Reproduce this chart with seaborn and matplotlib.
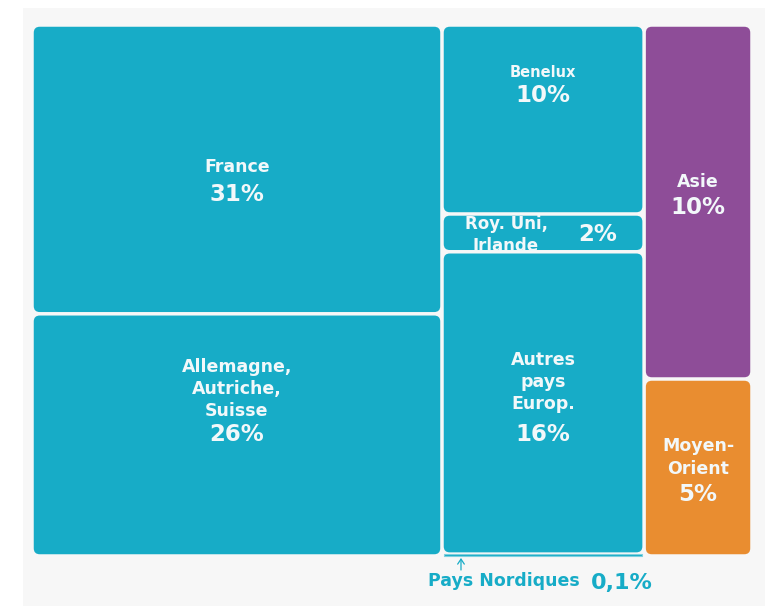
import matplotlib.pyplot as plt
import seaborn as sns
from matplotlib.patches import FancyBboxPatch, Rectangle

sns.set_theme(style="white")
plt.rcParams['font.family'] = ['DejaVu Sans']

# treemap data: share of total, grouped in columns
regions = ["France", "Allemagne,\nAutriche,\nSuisse", "Benelux", "Roy. Uni,\nIrlande",
           "Autres\npays\nEurop.", "Pays Nordiques", "Asie", "Moyen-\nOrient"]
shares = [31, 26, 10, 2, 16, 0.1, 10, 5]
share_labels = ["31%", "26%", "10%", "2%", "16%", "0,1%", "10%", "5%"]
column = [0, 0, 1, 1, 1, 1, 2, 2]
colours = ["#17acc7"] * 6 + ["#8e4d98", "#e98d30"]

# label placement (px offsets from box centre, down is positive)
name_off = [(0, -2), (0, -46), (0, -47), (-37, 2), (0, -21), None, (0, -20), (0, -10)]
pct_off = [(0, 25), (0, 0), (0, -24), (55, 2), (0, 32), None, (0, 6), (0, 27)]
name_size = [12.5, 12.5, 10.5, 12, 12.5, None, 12.5, 12.5]
txt = "#f2f8fa"

fig = plt.figure(figsize=(7.7, 6.06), dpi=100, facecolor="white")
fig.patches.append(Rectangle((23 / 770, 0), 742 / 770, 598 / 606, transform=fig.transFigure,
                             facecolor="#f7f7f7", edgecolor="none", zorder=-1))
AX_W, AX_H = 720, 531
ax = fig.add_axes([32 / 770, 50 / 606, AX_W / 770, AX_H / 606])
ax.set_facecolor("none")
total = sum(shares)
ax.set_xlim(0, total)
ax.set_ylim(1, 0)
ax.axis("off")

ux = total / AX_W   # data units per pixel
uy = 1 / AX_H
gap = 1.75

col_tot = {}
for c, s in zip(column, shares):
    col_tot[c] = col_tot.get(c, 0) + s
col_x = {}
acc = 0
for c in sorted(col_tot):
    col_x[c] = acc
    acc += col_tot[c]

col_y = {c: 0 for c in col_tot}
for i, (name, s, c) in enumerate(zip(regions, shares, column)):
    x0, w = col_x[c], col_tot[c]
    y0, h = col_y[c], s / col_tot[c]
    col_y[c] += h
    if name_off[i] is None:
        # tiny slice: thin bar with its label outside, below the chart
        ax.add_patch(Rectangle((x0 + gap * ux, y0), w - 2 * gap * ux, h, facecolor=colours[i],
                               edgecolor="#7fd0de", lw=0.8, clip_on=False))
        ax.annotate("", xy=(x0 + 19 * ux, y0 + h + 2 * uy), xytext=(x0 + 19 * ux, y0 + h + 14 * uy),
                    arrowprops=dict(arrowstyle="->,head_length=0.3,head_width=0.2",
                                    color="#17acc7", lw=0.9, shrinkA=0, shrinkB=0),
                    annotation_clip=False)
        ax.text(x0 - 14 * ux, y0 + h + 25 * uy, name, color="#17acc7", fontsize=12.5,
                fontweight="bold", ha="left", va="center")
        ax.text(x0 + 149 * ux, y0 + h + 27 * uy, share_labels[i], color="#17acc7", fontsize=16,
                fontweight="bold", ha="left", va="center")
        continue
    ax.add_patch(FancyBboxPatch((x0 + gap * ux, y0 + gap * uy), w - 2 * gap * ux, h - 2 * gap * uy,
                                boxstyle=f"round,pad=0,rounding_size={6 * ux}",
                                mutation_aspect=uy / ux, facecolor=colours[i],
                                edgecolor="none"))
    cx, cy = x0 + w / 2, y0 + h / 2
    dx, dy = name_off[i]
    ax.annotate(name, (cx, cy), xytext=(dx * 0.72, -dy * 0.72), textcoords="offset points",
                ha="center", va="center", color=txt, fontsize=name_size[i],
                fontweight="bold", linespacing=1.3)
    dx, dy = pct_off[i]
    ax.annotate(share_labels[i], (cx, cy), xytext=(dx * 0.72, -dy * 0.72),
                textcoords="offset points", ha="center", va="center", color=txt,
                fontsize=16.5, fontweight="bold")

fig.savefig("out.png", dpi=100, facecolor="white")
